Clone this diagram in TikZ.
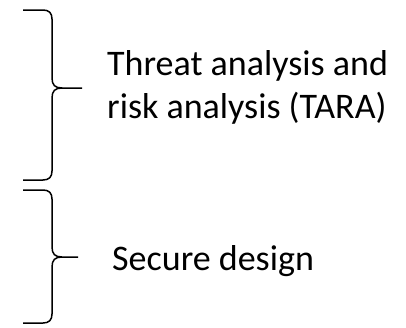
\documentclass[tikz,border=0pt]{standalone}
\usepackage{fontspec}
\setmainfont{Carlito}
\begin{document}
\begin{tikzpicture}[x=1pt,y=-1pt,
  bracestroke/.style={line width=1.5pt, line join=round, line cap=butt},
  label/.style={inner sep=0pt, anchor=base west, font=\fontsize{36}{44}\selectfont}]
\useasboundingbox (0,0) rectangle (406,327);
% upper brace
\coordinate (b1top) at (23,10);
\coordinate (b1tip) at (82,88);
\coordinate (b1bot) at (23,180);
\draw[bracestroke] (b1top) -- (43,10) .. controls (49,10) and (52,13) .. (52,19)
  -- (52,78) .. controls (52,85) and (55,88) .. (62,88) -- (b1tip);
\draw[bracestroke] (62,88) .. controls (55,88) and (52,91) .. (52,98)
  -- (52,171) .. controls (52,177) and (49,180) .. (43,180) -- (b1bot);
% lower brace
\coordinate (b2top) at (23,190);
\coordinate (b2tip) at (78,257);
\coordinate (b2bot) at (23,323);
\draw[bracestroke] (b2top) -- (43,190) .. controls (49,190) and (52,193) .. (52,199)
  -- (52,247) .. controls (52,254) and (55,257) .. (62,257) -- (b2tip);
\draw[bracestroke] (62,257) .. controls (55,257) and (52,260) .. (52,267)
  -- (52,314) .. controls (52,320) and (49,323) .. (43,323) -- (b2bot);
% labels
\node[label] (tara1) at (107,75) {Threat analysis and};
\node[label] (tara2) at (107,118) {risk analysis (TARA)};
\node[label] (secure) at (112,270) {Secure design};
\end{tikzpicture}
\end{document}
